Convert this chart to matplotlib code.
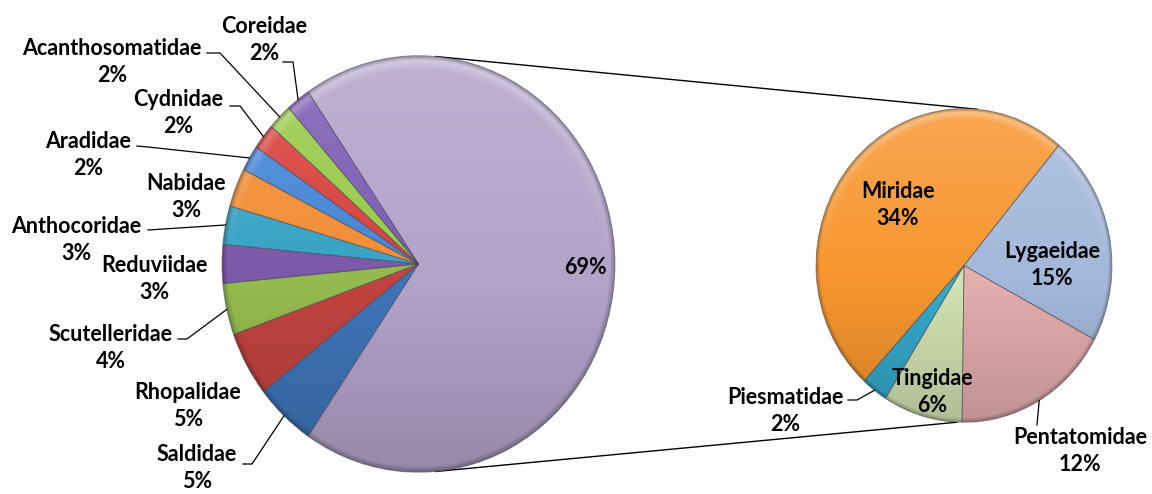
import numpy as np
import matplotlib
matplotlib.use("Agg")
import matplotlib.pyplot as plt
import matplotlib.colors as mcolors

plt.rcParams["font.family"] = ["Lato", "DejaVu Sans"]

# ---- data -----------------------------------------------------------------
main_names = ["Saldidae", "Rhopalidae", "Scutelleridae", "Reduviidae", "Anthocoridae",
              "Nabidae", "Aradidae", "Cydnidae", "Acanthosomatidae", "Coreidae"]
main_pct = [5, 5, 4, 3, 3, 3, 2, 2, 2, 2]
main_colors = ["#3E74B8", "#C0433F", "#93BA4E", "#7B58A8", "#35A2C4",
               "#F28C34", "#4485D6", "#D8403D", "#98C948", "#7C5BB4"]
other_pct = 69
other_color = "#B2A3C9"

sec_names = ["Miridae", "Lygaeidae", "Pentatomidae", "Tingidae", "Piesmatidae"]
sec_pct = [34, 15, 12, 6, 2]
sec_colors = ["#F7962F", "#A3B8DA", "#E4AEAD", "#D3E2B2", "#35A9CB"]

# ---- layout (pixel space of the 1152x494 canvas) --------------------------
W, H = 1152, 494
S = 1.06   # vertical stretch of the original picture
MAIN_C, MAIN_R = (418.5, 264.0), 196.5
SEC_C, SEC_R = (964.0, 265.5), 148.0

# label block centres (px) and leader elbow (px) or None
main_lab = {
    "Saldidae": ((197, 468), [(243, 464), (252, 464)]),
    "Rhopalidae": ((188, 406), None),
    "Scutelleridae": ((111, 348), [(178, 339), (187, 339)]),
    "Reduviidae": ((154, 279), None),
    "Anthocoridae": ((76, 240), [(148, 230)]),
    "Nabidae": ((186, 197), None),
    "Aradidae": ((88, 155), [(137, 146), (148, 147)]),
    "Cydnidae": ((178, 113), [(230, 106), (240, 106)]),
    "Acanthosomatidae": ((112, 62), [(207, 53), (220, 53)]),
    "Coreidae": ((264, 40), [(283, 62), (293, 62)]),
}
sec_lab = {
    "Miridae": ((898, 205), None),
    "Lygaeidae": ((1052, 265), None),
    "Pentatomidae": ((1080, 451), [(1037, 425)]),
    "Tingidae": ((932, 392), None),
    "Piesmatidae": ((785, 411), [(848, 400), (857, 400)]),
}


def P(x, y):
    return x, (H - y) / S


def rim(c, r, ang):
    cx, cy = P(*c)
    a = np.deg2rad(ang)
    return cx + r * np.cos(a), cy + r * np.sin(a)


def shade(ax, wedge, color, c, r):
    base = np.array(mcolors.to_rgb(color))
    n = 400
    u = np.linspace(-1, 1, n)
    U, V = np.meshgrid(u, u)
    t = (V + 1) / 2
    light = np.clip(t - 0.45, 0, None) / 0.55 * 0.16
    dark = np.clip(0.45 - t, 0, None) / 0.45 * 0.16
    rgb = base * (1 - dark[..., None])
    rgb = rgb + (1 - rgb) * light[..., None]
    R = np.hypot(U, V)
    band = np.clip((R - 0.93) / 0.05, 0, 1) * np.clip((1.0 - R) / 0.02, 0, 1)
    rgb = rgb + (1 - rgb) * (band * np.clip(V, 0, 1) * 0.35)[..., None]
    edge = np.clip((R - 0.975) / 0.025, 0, 1) * 0.25
    rgb = rgb * (1 - edge[..., None])
    cx, cy = P(*c)
    im = ax.imshow(rgb, extent=(cx - r, cx + r, cy - r, cy + r), origin="lower",
                   aspect="auto", interpolation="bilinear", zorder=2)
    im.set_clip_path(wedge)


def pie(ax, vals, colors, c, r, start):
    wedges, _ = ax.pie(vals, colors=colors, center=P(*c), radius=r, startangle=start,
                       counterclock=False, normalize=True,
                       wedgeprops=dict(edgecolor=(0.25, 0.25, 0.3, 0.55), linewidth=0.6, zorder=3))
    for w, col in zip(wedges, colors):
        w.set_facecolor("none")
        shade(ax, w, col, c, r)
    return wedges


fig = plt.figure(figsize=(W / 100, H / 100), dpi=100)
ax = fig.add_axes([0, 0, 1, 1])

main_w = pie(ax, main_pct + [other_pct], main_colors + [other_color], MAIN_C, MAIN_R, 235.8)
sec_w = pie(ax, sec_pct, sec_colors, SEC_C, SEC_R, 227.5)

ax.set_xlim(0, W)
ax.set_ylim(0, H / S)
ax.set_aspect("auto")
ax.axis("off")

# connector lines between the two pies
for a_main, a_sec in [(85, 85), (-85, -92.7)]:
    x0, y0 = rim(MAIN_C, MAIN_R, a_main)
    x1, y1 = rim(SEC_C, SEC_R, a_sec)
    ax.plot([x0, x1], [y0, y1], color="black", lw=1.0, zorder=1)

txt = dict(ha="center", va="center", fontsize=15.5, fontweight="bold", linespacing=1.4,
           color="black", zorder=5)


def labels(wedges, names, pcts, lab, c, r):
    for w, name, p in zip(wedges, names, pcts):
        (lx, ly), elbow = lab[name]
        ax.text(*P(lx, ly), f"{name}\n{p}%", **txt)
        if elbow:
            mid = (w.theta1 + w.theta2) / 2
            pts = [P(*e) for e in elbow] + [rim(c, r, mid)]
            ax.plot([q[0] for q in pts], [q[1] for q in pts], color="black", lw=0.9, zorder=4)


labels(main_w, main_names, main_pct, main_lab, MAIN_C, MAIN_R)
labels(sec_w, sec_names, sec_pct, sec_lab, SEC_C, SEC_R)
ax.text(*P(585, 267), f"{other_pct}%", **txt)

fig.savefig("out.png", dpi=100)
